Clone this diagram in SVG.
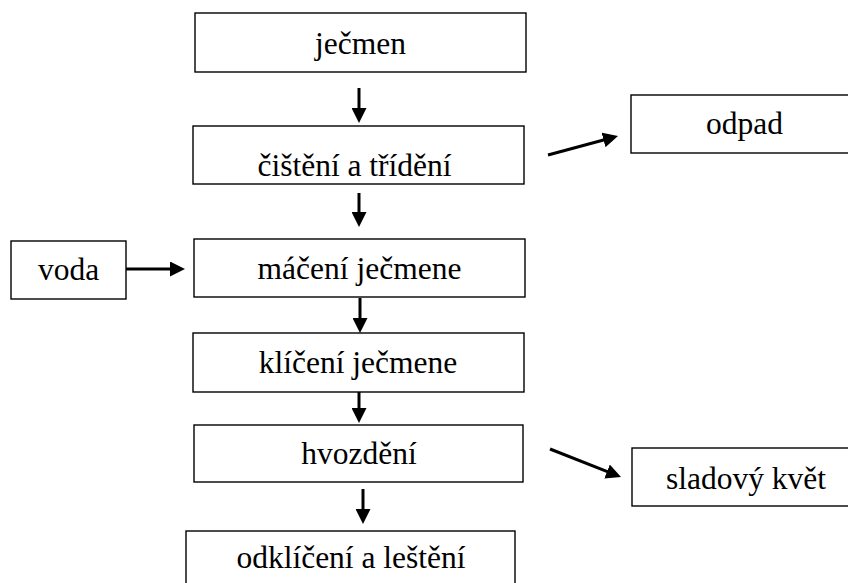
<svg xmlns="http://www.w3.org/2000/svg" width="848" height="583" viewBox="0 0 848 583">
  <defs>
    <marker id="ah" viewBox="0 0 15 15" markerWidth="15" markerHeight="15" refX="1" refY="7.5" orient="auto" markerUnits="userSpaceOnUse">
      <path d="M0,0 L15,7.5 L0,15 z" fill="#000"/>
    </marker>
    <style>
      .box { fill: #fff; stroke: #000; stroke-width: 1.4; }
      .lbl { font-family: 'Liberation Serif', 'Times New Roman', 'DejaVu Serif', serif; font-size: 31.5px; fill: #000; text-anchor: middle; }
      .conn { stroke: #000; stroke-width: 3; fill: none; marker-end: url(#ah); }
    </style>
  </defs>
  <rect width="848" height="583" fill="#fff"/>

  <g id="n-jecmen">
    <rect class="box" x="195" y="13" width="331" height="59"/>
    <text class="lbl" font-family="Liberation Serif, serif" x="360.5" y="54">ječmen</text>
  </g>
  <g id="n-cisteni">
    <rect class="box" x="193" y="126" width="331" height="58"/>
    <text class="lbl" font-family="Liberation Serif, serif" x="354.5" y="176">čištění a třídění</text>
  </g>
  <g id="n-odpad">
    <rect class="box" x="631" y="95" width="230" height="58"/>
    <text class="lbl" font-family="Liberation Serif, serif" x="744.5" y="134">odpad</text>
  </g>
  <g id="n-voda">
    <rect class="box" x="11" y="241" width="115" height="58"/>
    <text class="lbl" font-family="Liberation Serif, serif" x="68.5" y="280">voda</text>
  </g>
  <g id="n-maceni">
    <rect class="box" x="194" y="239" width="331" height="58"/>
    <text class="lbl" font-family="Liberation Serif, serif" x="359.5" y="279">máčení ječmene</text>
  </g>
  <g id="n-kliceni">
    <rect class="box" x="193" y="333" width="331" height="59"/>
    <text class="lbl" font-family="Liberation Serif, serif" x="358" y="373">klíčení ječmene</text>
  </g>
  <g id="n-hvozdeni">
    <rect class="box" x="194" y="425" width="329" height="57"/>
    <text class="lbl" font-family="Liberation Serif, serif" x="359" y="464">hvozdění</text>
  </g>
  <g id="n-sladovy">
    <rect class="box" x="632" y="448" width="230" height="58"/>
    <text class="lbl" font-family="Liberation Serif, serif" x="746" y="489">sladový květ</text>
  </g>
  <g id="n-odkliceni">
    <rect class="box" x="186" y="531" width="329" height="62"/>
    <text class="lbl" font-family="Liberation Serif, serif" x="351" y="568">odklíčení a leštění</text>
  </g>

  <g id="connectors">
    <line class="conn" x1="359" y1="88" x2="359" y2="109"/>
    <line class="conn" x1="359" y1="193" x2="359" y2="213"/>
    <line class="conn" x1="360" y1="298" x2="360" y2="319"/>
    <line class="conn" x1="359" y1="392" x2="359" y2="409"/>
    <line class="conn" x1="363" y1="489" x2="363" y2="510"/>
    <line class="conn" x1="126" y1="269" x2="171" y2="269"/>
    <line class="conn" x1="548" y1="155" x2="604.5" y2="139.7"/>
    <line class="conn" x1="550" y1="449" x2="608" y2="471.9"/>
  </g>
</svg>
